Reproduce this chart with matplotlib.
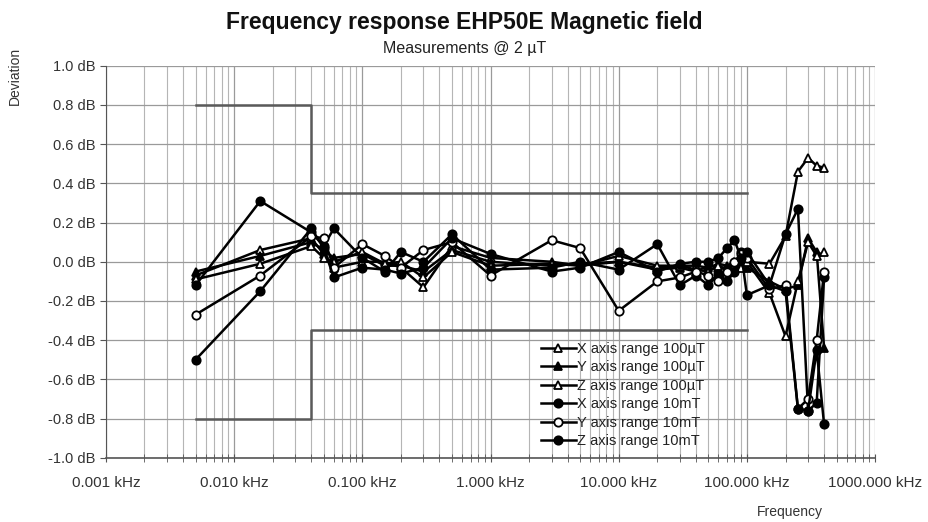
import matplotlib
matplotlib.use("Agg")
import matplotlib.pyplot as plt
from matplotlib.ticker import FixedLocator, FuncFormatter, LogLocator, NullFormatter

plt.rcParams['font.family'] = ['Liberation Sans', 'DejaVu Sans']

freq_khz = [0.005, 0.016, 0.04, 0.05, 0.06, 0.1, 0.15, 0.2, 0.3, 0.5, 1, 3, 5, 10,
            20, 30, 40, 50, 60, 70, 80, 90, 100, 150, 200, 250, 300, 350, 400]

x_100uT = [-0.07, 0.06, 0.12, 0.04, -0.03, 0.00, 0.00, -0.03, -0.13, 0.08, 0.02, 0.00, -0.02, 0.00,
           -0.03, -0.02, -0.02, -0.03, -0.01, -0.02, 0.00, -0.02, 0.00, -0.01, 0.13, 0.46, 0.53, 0.49, 0.48]
y_100uT = [-0.05, 0.03, 0.10, 0.06, 0.02, 0.04, -0.02, -0.02, -0.05, 0.06, 0.00, -0.02, -0.01, 0.00,
           -0.04, -0.03, -0.05, -0.02, -0.03, -0.03, -0.02, 0.00, -0.03, -0.10, -0.14, -0.12, 0.12, 0.05, -0.44]
z_100uT = [-0.09, -0.01, 0.08, 0.02, 0.00, 0.05, -0.01, 0.00, -0.08, 0.05, -0.02, -0.01, -0.02, 0.03,
           -0.02, -0.02, -0.04, -0.05, -0.02, -0.04, -0.01, -0.03, 0.00, -0.16, -0.38, -0.10, 0.10, 0.03, 0.05]
x_10mT = [-0.12, 0.31, 0.15, 0.08, 0.17, 0.02, -0.05, 0.05, 0.00, 0.14, -0.04, -0.03, 0.00, -0.04,
          0.09, -0.12, -0.07, -0.12, -0.06, -0.10, -0.05, 0.05, -0.17, -0.12, 0.14, 0.27, -0.76, -0.72, -0.08]
y_10mT = [-0.27, -0.07, 0.13, 0.12, -0.03, 0.09, 0.03, -0.03, 0.06, 0.10, -0.07, 0.11, 0.07, -0.25,
          -0.10, -0.08, -0.05, -0.07, -0.10, -0.05, 0.00, 0.04, 0.02, -0.14, -0.12, -0.75, -0.70, -0.40, -0.05]
z_10mT = [-0.50, -0.15, 0.17, 0.07, -0.08, -0.03, -0.04, -0.06, -0.03, 0.12, 0.04, -0.05, -0.03, 0.05,
          -0.05, -0.01, 0.00, 0.00, 0.02, 0.07, 0.11, 0.02, 0.05, -0.12, -0.15, -0.75, -0.76, -0.45, -0.83]

limit_f = [0.005, 0.04, 0.04, 100]
limit_hi = [0.8, 0.8, 0.35, 0.35]
limit_lo = [-0.8, -0.8, -0.35, -0.35]

x_ticks = [0.001, 0.01, 0.1, 1, 10, 100, 1000]
y_ticks = [-1.0, -0.8, -0.6, -0.4, -0.2, 0.0, 0.2, 0.4, 0.6, 0.8, 1.0]

labels = ["X axis range 100\u00b5T", "Y axis range 100\u00b5T", "Z axis range 100\u00b5T",
          "X axis range 10mT", "Y axis range 10mT", "Z axis range 10mT"]
series = [x_100uT, y_100uT, z_100uT, x_10mT, y_10mT, z_10mT]
markers = ['^', '^', '^', 'o', 'o', 'o']
faces = ['white', 'black', 'white', 'black', 'white', 'black']

fig = plt.figure(figsize=(9.29, 5.22), dpi=100)
ax = fig.add_axes([0.114, 0.123, 0.828, 0.751])

ax.set_xscale('log')
ax.set_xlim(0.001, 1000)
ax.set_ylim(-1.0, 1.0)

ax.yaxis.set_major_locator(FixedLocator(y_ticks))
ax.yaxis.set_major_formatter(FuncFormatter(lambda v, p: f"{v:.1f} dB"))
ax.xaxis.set_major_locator(FixedLocator(x_ticks))
ax.xaxis.set_minor_locator(LogLocator(base=10, subs=range(2, 10), numticks=100))
ax.xaxis.set_minor_formatter(NullFormatter())
ax.xaxis.set_major_formatter(FuncFormatter(lambda v, p: f"{v:.3f} kHz"))

ax.grid(True, which='major', color='#9a9a9a', linewidth=0.9)
ax.grid(True, which='minor', axis='x', color='#b5b5b5', linewidth=0.8)
ax.set_axisbelow(True)

for s in ['top', 'right']:
    ax.spines[s].set_visible(False)
ax.spines['left'].set_color('#555555')
ax.spines['bottom'].set_color('#555555')
ax.spines['bottom'].set_linewidth(1.2)
ax.tick_params(axis='x', which='both', direction='inout', length=6, colors='#555555',
               labelcolor='#333333', labelsize=11, pad=10)
ax.tick_params(axis='y', direction='out', length=4, colors='#555555', labelcolor='#333333', labelsize=10.5)

ax.plot(limit_f, limit_hi, color='#5a5a5a', linewidth=1.8)
ax.plot(limit_f, limit_lo, color='#5a5a5a', linewidth=1.8)

for vals, lab, m, fc in zip(series, labels, markers, faces):
    ax.plot(freq_khz, vals, color='black', linewidth=1.8, marker=m, markersize=6,
            markerfacecolor=fc, markeredgecolor='black', markeredgewidth=1.3, label=lab)

leg = ax.legend(loc='lower left', bbox_to_anchor=(0.565, 0.025), frameon=False, fontsize=10.5,
                handlelength=2.4, handletextpad=0.1, labelspacing=0.3, borderaxespad=0.0,
                borderpad=0.0)
for t in leg.get_texts():
    t.set_color('#222222')

fig.text(0.5, 0.957, "Frequency response EHP50E Magnetic field", ha='center', va='center',
         fontsize=16.5, fontweight='bold', color='#111111')
fig.text(0.5, 0.907, "Measurements @ 2 \u00b5T", ha='center', va='center', fontsize=11.5, color='#222222')
fig.text(0.016, 0.91, "Deviation", rotation=90, ha='center', va='top', fontsize=10, color='#333333')
fig.text(0.85, 0.02, "Frequency", ha='center', va='center', fontsize=10, color='#333333')

fig.savefig("out.png", dpi=100)
